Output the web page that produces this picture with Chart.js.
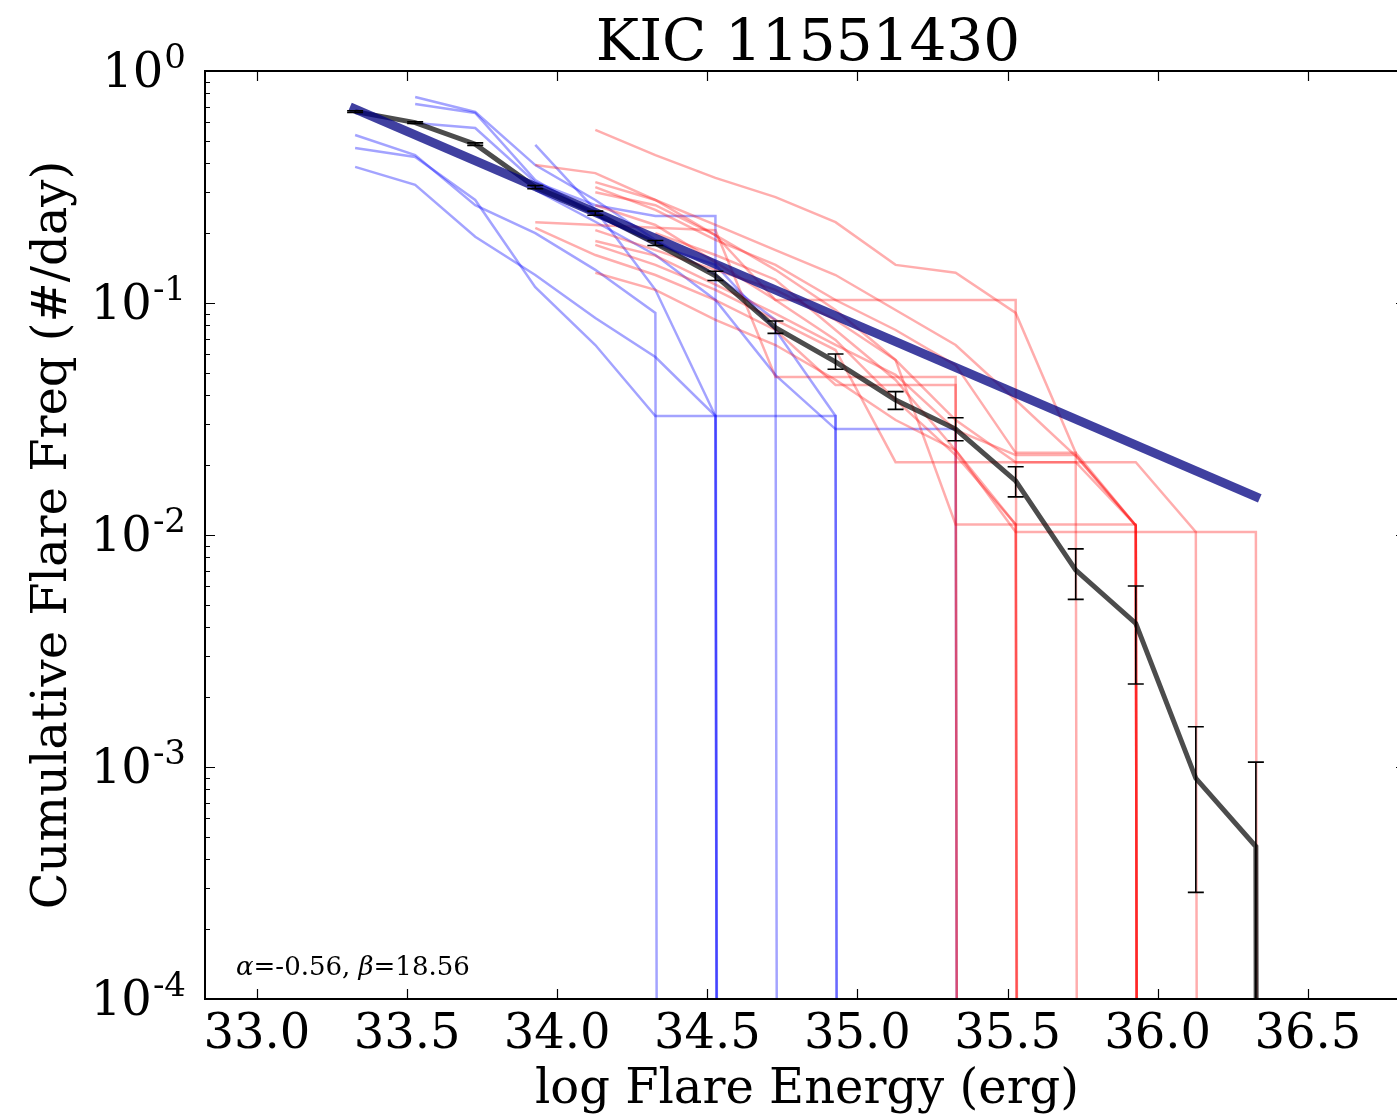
<!DOCTYPE html>
<html>
<head>
<meta charset="utf-8">
<script src="https://cdn.jsdelivr.net/npm/chart.js@4.4.1/dist/chart.umd.min.js"></script>
<style>
  html, body { margin: 0; padding: 0; background: #fff; overflow: hidden; }
  canvas { display: block; }
</style>
</head>
<body>
<canvas id="ffd" width="1410" height="1119"></canvas>
<script>
// "no more flares" marker: 0 can't live on a log axis, so use a tiny value
const ZERO = 1e-300;

const energyBins = [33.327, 33.527, 33.727, 33.927, 34.127, 34.327, 34.527, 34.727,
  34.927, 35.127, 35.327, 35.527, 35.727, 35.927, 36.127, 36.327, 36.527];

// per-quarter FFDs, blue = early quarters
const blueQ1 = [null, 0.772, 0.666, 0.393, 0.278, 0.187, 0.132, 0.0845, ZERO];
const blueQ2 = [null, 0.721, 0.659, 0.339, 0.240, 0.178, 0.146, 0.0765, 0.0326, ZERO];
const blueQ3 = [null, 0.597, 0.568, 0.332, 0.264, 0.237, 0.237, ZERO];
const blueQ4 = [0.530, 0.434, 0.264, 0.200, 0.139, 0.0906, ZERO];
const blueQ5 = [0.466, 0.426, 0.278, 0.117, 0.0659, 0.0326, 0.0326, ZERO];
const blueQ6 = [0.386, 0.323, 0.193, 0.132, 0.0862, 0.0585, 0.0326, 0.0326, 0.0326, ZERO];
const blueQ7 = [null, null, null, 0.480, 0.252, 0.114, 0.0326, ZERO];
const blueQ8 = [null, null, null, 0.307, 0.224, 0.161, 0.103, 0.0489, 0.0286, 0.0286, 0.0286, ZERO];

// red = later quarters
const redQ1 = [null, null, null, null, 0.557, 0.434, 0.346, 0.286, 0.223, 0.146, 0.135, 0.0906, 0.0226, 0.0110, ZERO];
const redQ2 = [null, null, null, null, 0.332, 0.278, 0.196, 0.103, 0.103, 0.103, 0.103, 0.103, ZERO];
const redQ3 = [null, null, null, 0.393, 0.363, 0.278, 0.217, 0.169, 0.132, 0.0933, 0.0659, 0.0382, 0.0219, 0.0110, ZERO];
const redQ4 = [null, null, null, null, 0.316, 0.252, 0.187, 0.146, 0.103, 0.0765, 0.0540, 0.0226, 0.0226, ZERO];
const redQ5 = [null, null, null, 0.223, 0.217, 0.211, 0.206, 0.0480, 0.0480, 0.0480, 0.0480, ZERO];
const redQ6 = [null, null, null, 0.211, 0.161, 0.132, 0.103, 0.0765, 0.0443, 0.0443, 0.0443, ZERO];
const redQ7 = [null, null, null, null, 0.206, 0.169, 0.139, 0.114, 0.0845, 0.0568, 0.0111, 0.0111, 0.0111, 0.0111, ZERO];
const redQ8 = [null, null, null, null, 0.178, 0.146, 0.114, 0.0845, 0.0627, 0.0206, 0.0206, 0.0206, 0.0206, 0.0206, 0.0103, ZERO];
const redQ9 = [null, null, null, null, 0.135, 0.114, 0.0845, 0.0659, 0.0466, 0.0313, 0.0232, 0.0103, 0.0103, 0.0103, 0.0103, 0.0103, ZERO];
const redQ10 = [null, null, null, null, 0.264, 0.217, 0.150, 0.103, 0.0693, 0.0382, 0.0221, 0.0111, ZERO];
const redQ11 = [null, null, null, null, 0.300, 0.264, 0.196, 0.139, 0.0933, 0.0568, 0.0313, 0.0206, 0.0206, 0.0110, ZERO];
const redQ12 = [null, null, null, null, null, 0.200, 0.161, 0.126, 0.0765, 0.0466, 0.0232, 0.0111, ZERO];
const redQ13 = [null, null, null, null, 0.185, 0.160, 0.120, 0.0900, 0.0660, 0.0490, 0.0284, 0.0221, 0.0221, 0.0110, ZERO];

// mean FFD with error bars
const meanFreq = [0.668, 0.599, 0.484, 0.316, 0.244, 0.181, 0.131, 0.0783, 0.0558, 0.0382,
  0.0286, 0.0171, 0.00706, 0.00416, 0.000894, 0.000454, ZERO];
const errLow = [0.662, 0.594, 0.478, 0.311, 0.239, 0.177, 0.125, 0.0740, 0.0518, 0.0348,
  0.0255, 0.0146, 0.00528, 0.00228, 0.000288, ZERO];
const errHigh = [0.674, 0.604, 0.490, 0.321, 0.249, 0.186, 0.137, 0.0836, 0.0603, 0.0415,
  0.0320, 0.0197, 0.00871, 0.00603, 0.00149, 0.00105];

// power law fit ends
const fitEnergy = [33.31, 36.34];
const fitFreq = [0.70, 0.0144];

const xTicks = [33.0, 33.5, 34.0, 34.5, 35.0, 35.5, 36.0, 36.5];
const yTicks = [1, 0.1, 0.01, 0.001, 0.0001];
const yTickExp = ['0', '-1', '-2', '-3', '-4'];

const SERIF = '"DejaVu Serif", serif';

function pts(vals) {
  return vals.map((v, i) => ({ x: energyBins[i], y: v })).filter(p => p.y !== null);
}

const blueSets = [blueQ1, blueQ2, blueQ3, blueQ4, blueQ5, blueQ6, blueQ7, blueQ8];
const redSets = [redQ1, redQ2, redQ3, redQ4, redQ5, redQ6, redQ7, redQ8, redQ9, redQ10,
  redQ11, redQ12, redQ13];

const datasets = [];
datasets.push({ data: [{ x: fitEnergy[0], y: fitFreq[0] }, { x: fitEnergy[1], y: fitFreq[1] }],
  borderColor: 'rgba(0,0,128,0.75)', borderWidth: 9, order: 0, borderCapStyle: 'butt' });
datasets.push({ data: pts(meanFreq), borderColor: 'rgba(0,0,0,0.7)', borderWidth: 5, order: 1 });
redSets.forEach(s => datasets.push({ data: pts(s), borderColor: 'rgba(255,0,0,0.32)', borderWidth: 2.5, order: 2 }));
blueSets.forEach(s => datasets.push({ data: pts(s), borderColor: 'rgba(0,0,255,0.36)', borderWidth: 2.5, order: 3 }));

const errorBars = {
  id: 'errorBars',
  afterDatasetsDraw(chart) {
    const { ctx, chartArea: a, scales: { x, y } } = chart;
    ctx.save();
    ctx.beginPath();
    ctx.rect(a.left, a.top, a.right - a.left, a.bottom - a.top);
    ctx.clip();
    ctx.strokeStyle = '#000';
    ctx.lineWidth = 1.6;
    errHigh.forEach((hi, i) => {
      const px = x.getPixelForValue(energyBins[i]);
      const top = y.getPixelForValue(hi);
      const bot = errLow[i] === ZERO ? a.bottom + 10 : y.getPixelForValue(errLow[i]);
      ctx.beginPath();
      ctx.moveTo(px, top); ctx.lineTo(px, bot);
      ctx.moveTo(px - 8, top); ctx.lineTo(px + 8, top);
      ctx.moveTo(px - 8, bot); ctx.lineTo(px + 8, bot);
      ctx.stroke();
    });
    ctx.restore();
  }
};

const frame = {
  id: 'frame',
  afterDraw(chart) {
    const { ctx, chartArea: a, scales: { x, y } } = chart;
    ctx.save();
    ctx.strokeStyle = '#000';
    ctx.lineWidth = 2;
    ctx.strokeRect(a.left, a.top, a.right - a.left, a.bottom - a.top);

    ctx.lineWidth = 1.2;
    ctx.beginPath();
    xTicks.forEach(t => {
      const px = Math.round(x.getPixelForValue(t)) + 0.5;
      ctx.moveTo(px, a.bottom); ctx.lineTo(px, a.bottom - 10);
      ctx.moveTo(px, a.top); ctx.lineTo(px, a.top + 10);
    });
    yTicks.forEach(t => {
      const py = Math.round(y.getPixelForValue(t)) + 0.5;
      ctx.moveTo(a.left, py); ctx.lineTo(a.left + 10, py);
      ctx.moveTo(a.right, py); ctx.lineTo(a.right - 10, py);
    });
    for (let d = 0.0001; d < 1; d *= 10) {
      for (let m = 2; m <= 9; m++) {
        const py = Math.round(y.getPixelForValue(d * m)) + 0.5;
        ctx.moveTo(a.left, py); ctx.lineTo(a.left + 5, py);
        ctx.moveTo(a.right, py); ctx.lineTo(a.right - 5, py);
      }
    }
    ctx.stroke();

    ctx.fillStyle = '#000';
    ctx.textBaseline = 'alphabetic';

    // x tick labels
    ctx.font = '48px ' + SERIF;
    ctx.textAlign = 'center';
    xTicks.forEach(t => ctx.fillText(t.toFixed(1), x.getPixelForValue(t), 1048));

    // y tick labels 10^n
    yTicks.forEach((t, i) => {
      const py = y.getPixelForValue(t);
      ctx.font = '34px ' + SERIF;
      ctx.textAlign = 'right';
      ctx.fillText(yTickExp[i], 186, py - 3);
      const ew = ctx.measureText(yTickExp[i]).width;
      ctx.font = '48px ' + SERIF;
      ctx.fillText('10', 186 - ew - 1, py + 16);
    });

    // title and axis labels
    ctx.textAlign = 'center';
    ctx.font = '58px ' + SERIF;
    ctx.fillText('KIC 11551430', 808, 60);
    ctx.font = '48px ' + SERIF;
    ctx.fillText('log Flare Energy (erg)', 807, 1103);
    ctx.save();
    ctx.translate(66, 535);
    ctx.rotate(-Math.PI / 2);
    ctx.fillText('Cumulative Flare Freq (#/day)', 0, 0);
    ctx.restore();

    // fit parameters
    ctx.textAlign = 'left';
    let tx = 236;
    const ty = 975;
    const parts = [['α', true], ['=-0.56, ', false], ['β', true], ['=18.56', false]];
    parts.forEach(([s, it]) => {
      ctx.font = (it ? 'italic ' : '') + '26px ' + SERIF;
      ctx.fillText(s, tx, ty);
      tx += ctx.measureText(s).width;
    });
    ctx.restore();
  }
};

new Chart(document.getElementById('ffd'), {
  type: 'line',
  data: { datasets },
  options: {
    responsive: false,
    animation: false,
    devicePixelRatio: 1,
    layout: { padding: { left: 205, top: 71, right: 4, bottom: 120 } },
    plugins: { legend: { display: false }, tooltip: { enabled: false } },
    elements: { point: { radius: 0 }, line: { tension: 0, fill: false } },
    scales: {
      x: { type: 'linear', min: 32.827, max: 36.827, display: false },
      y: { type: 'logarithmic', min: 0.0001, max: 1, display: false }
    }
  },
  plugins: [errorBars, frame]
});
</script>
</body>
</html>
